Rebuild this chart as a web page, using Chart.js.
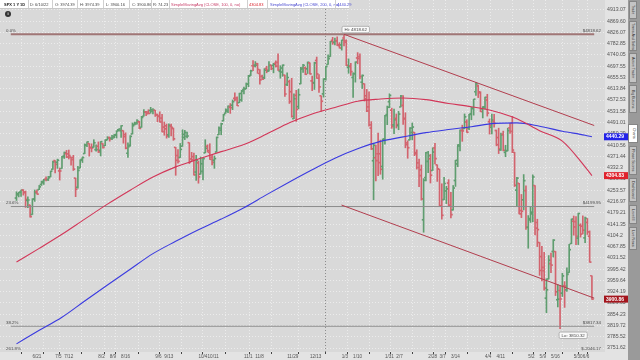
<!DOCTYPE html>
<html>
<head>
<meta charset="utf-8">
<script src="https://cdn.jsdelivr.net/npm/chart.js@4.4.0/dist/chart.umd.min.js"></script>
<style>
html, body { margin: 0; padding: 0; background: #e3e3e3; }
#wrap { position: relative; width: 640px; height: 360px; overflow: hidden; font-family: "Liberation Sans", Arial, sans-serif; }
canvas { position: absolute; left: 0; top: 0; }
#hdr { position: absolute; left: 0; top: 0; width: 349px; height: 8px; background: #fff; border-bottom: 1px solid #c8c8c8; }
#hdr span { position: absolute; top: 1.5px; font-size: 4px; line-height: 5px; white-space: nowrap; color: #444; }
#hdr i { position: absolute; top: 0; width: 1px; height: 8px; background: #d0d0d0; }
#info { position: absolute; left: 5px; top: 11px; width: 6px; height: 6px; border-radius: 3px; background: #333; color: #fff; font-size: 4px; line-height: 6px; text-align: center; font-weight: bold; }
#side { position: absolute; left: 628px; top: 0; width: 12px; height: 360px; background: #9a9a9a; }
.tab { position: absolute; left: 1px; width: 8px; background: #c4c4c4; border: 1px solid #858585; box-sizing: border-box; font-size: 3.6px; color: #333; writing-mode: vertical-rl; text-align: center; line-height: 6px; white-space: nowrap; overflow: hidden; }
.tab.sel { background: #fff; left: 0; width: 10px; }
</style>
</head>
<body>
<div id="wrap">
  <canvas id="chart" width="640" height="360"></canvas>
  <div id="hdr">
    <span style="left:4px;font-weight:bold;color:#222">SPX 1 Y 1D</span><i style="left:28px"></i>
    <span style="left:30px">D: 6/10/22</span><i style="left:52px"></i>
    <span style="left:55px">O: 3974.39</span><i style="left:77px"></i>
    <span style="left:80px">H: 3974.39</span><i style="left:103px"></i>
    <span style="left:106px">L: 3900.16</span><i style="left:129px"></i>
    <span style="left:132px">C: 3900.86</span><i style="left:151px"></i>
    <span style="left:153px">R: 74.23</span><i style="left:169px"></i>
    <span style="left:171px;color:#c8406a">SimpleMovingAvg (CLOSE, 100, 0, no)</span><i style="left:247px"></i>
    <span style="left:249px;color:#d8202a">4304.83</span><i style="left:267px"></i>
    <span style="left:270px;color:#4a4ad0">SimpleMovingAvg (CLOSE, 200, 0, no)</span><i style="left:335px"></i>
    <span style="left:337px;color:#4a4ad0">4440.29</span>
  </div>
  <div id="info">i</div>
  <div id="side">
    <div class="tab" style="top:1px;height:18px">Trade</div>
    <div class="tab" style="top:21px;height:30px">Times And Sales</div>
    <div class="tab" style="top:53px;height:30px">Active Trader</div>
    <div class="tab" style="top:85px;height:28px">Big Buttons</div>
    <div class="tab sel" style="top:124px;height:19px">Charts</div>
    <div class="tab" style="top:146px;height:29px">Phase Scores</div>
    <div class="tab" style="top:178px;height:24px">Dashboard</div>
    <div class="tab" style="top:205px;height:19px">Level II</div>
    <div class="tab" style="top:227px;height:23px">Live News</div>
  </div>
</div>
<script>
// SPX daily bars, 6/10/21 .. 6/10/22 (bar index 0..253)
const opens = [
  // Jun 21
  4228.56,4242.90,4248.31,4255.28,4248.87,4220.37,4204.78,4173.40,4224.61,4249.27,4256.97,4274.45,4284.90,4293.21,4290.65,
  // Jul
  4300.73,4326.60,4356.46,4351.01,4321.07,4329.38,4372.41,4381.07,4380.11,4369.02,4367.43,4296.40,4265.11,4331.13,4361.27,4381.20,4409.58,4416.38,4402.95,4403.59,4395.12,
  // Aug
  4406.86,4392.74,4415.95,4408.86,4429.07,4437.77,4435.79,4442.18,4446.08,4464.84,4461.65,4462.12,4440.94,4382.44,4410.56,4450.29,4484.40,4490.45,4493.75,4474.10,4513.76,4529.75,
  // Sep
  4528.80,4534.48,4532.42,4535.38,4518.09,4513.02,4506.92,4474.81,4479.33,4447.49,4477.09,4469.74,4402.95,4374.45,4367.43,4406.75,4438.04,4442.12,4419.54,4362.41,4370.67,
  // Oct
  4317.16,4348.84,4309.87,4319.57,4383.73,4406.51,4385.44,4368.31,4358.01,4386.75,4447.69,4463.72,4497.34,4524.42,4532.24,4546.12,4553.69,4578.69,4580.22,4562.84,4572.87,
  // Nov
  4610.62,4613.34,4630.65,4662.93,4699.26,4701.48,4707.25,4670.26,4659.39,4655.24,4689.30,4679.42,4701.50,4700.72,4708.44,4712.00,4678.48,4675.78,4664.63,4628.75,4640.25,
  // Dec
  4602.82,4504.73,4589.49,4548.37,4631.97,4690.86,4691.00,4687.64,4710.30,4642.99,4636.46,4719.13,4652.50,4587.90,4594.96,4650.36,4703.96,4733.99,4795.49,4788.64,4794.23,4775.21,
  // Jan 22
  4778.14,4804.51,4787.99,4693.39,4697.66,4655.34,4669.14,4728.59,4733.56,4637.99,4632.24,4588.03,4547.35,4471.38,4356.32,4366.64,4380.58,4380.58,4336.19,4431.79,
  // Feb
  4519.57,4566.39,4535.41,4482.79,4505.75,4480.02,4547.00,4553.24,4506.27,4412.61,4429.28,4455.75,4456.06,4384.57,4332.74,4324.93,4155.77,4298.38,4354.17,
  // Mar
  4363.14,4322.56,4401.31,4342.12,4327.01,4202.66,4223.10,4252.55,4279.50,4202.75,4188.82,4288.14,4345.11,4407.34,4462.40,4469.10,4493.10,4469.98,4522.91,4541.09,4602.86,4624.20,4599.02,
  // Apr
  4540.32,4547.97,4572.45,4494.17,4474.65,4494.15,4462.64,4437.59,4394.30,4449.12,4385.63,4390.63,4472.26,4489.17,4385.83,4255.34,4278.14,4186.52,4222.58,4253.75,
  // May
  4130.61,4159.78,4181.18,4270.43,4128.17,4081.27,4035.18,3990.08,3903.95,3963.90,4013.02,4052.00,4051.98,3899.00,3927.76,3919.42,3942.94,3929.59,3984.60,4077.43,4151.09,
  // Jun
  4149.78,4095.41,4137.57,4134.72,4096.47,4147.12,4101.65,3974.39
];
const highs = [
  4249.74,4248.38,4255.59,4257.16,4251.89,4232.29,4204.78,4226.24,4255.84,4256.60,4271.28,4286.12,4292.14,4300.52,4302.43,
  4320.66,4355.43,4356.46,4361.88,4330.88,4371.60,4386.68,4392.37,4393.68,4369.02,4375.09,4296.40,4336.84,4359.70,4369.87,4415.18,4422.73,4416.38,4415.47,4429.97,4412.25,
  4422.18,4423.79,4416.17,4429.76,4440.82,4439.39,4445.21,4449.44,4461.77,4468.37,4480.26,4462.12,4454.32,4418.61,4444.35,4489.88,4492.81,4501.71,4495.90,4513.33,4537.36,4531.39,
  4537.11,4545.85,4541.45,4535.38,4521.79,4529.90,4520.47,4492.99,4485.68,4486.87,4485.87,4471.52,4402.95,4394.87,4416.75,4465.40,4463.12,4457.30,4419.54,4385.57,4382.55,
  4375.19,4355.51,4369.23,4365.57,4429.97,4412.02,4415.88,4374.89,4372.87,4439.73,4475.82,4488.75,4520.40,4540.87,4551.44,4559.67,4572.62,4598.53,4584.57,4597.55,4608.08,
  4620.34,4635.15,4663.46,4683.00,4718.50,4714.92,4708.53,4684.85,4664.55,4688.47,4697.42,4714.95,4701.50,4708.80,4717.75,4743.83,4699.39,4702.87,4664.63,4672.95,4646.02,
  4652.94,4595.46,4608.03,4612.60,4694.04,4705.06,4695.26,4713.57,4710.30,4660.47,4712.60,4731.99,4666.70,4587.90,4651.14,4697.67,4740.74,4791.49,4807.02,4804.06,4808.93,4786.83,
  4796.64,4818.62,4797.70,4725.01,4707.95,4673.02,4714.13,4748.83,4744.13,4665.13,4632.24,4611.55,4602.11,4494.52,4417.35,4411.01,4453.23,4428.74,4432.72,4516.89,
  4550.49,4595.31,4542.88,4539.66,4521.86,4531.32,4590.03,4588.92,4526.33,4426.22,4472.77,4489.55,4456.06,4394.60,4362.12,4341.51,4294.73,4385.34,4388.84,
  4378.45,4401.48,4416.78,4342.12,4327.01,4276.94,4299.40,4268.28,4291.01,4247.57,4271.05,4357.86,4412.67,4465.40,4481.75,4522.00,4501.07,4520.58,4546.03,4575.65,4637.30,4627.77,4603.07,
  4548.70,4583.50,4593.45,4503.94,4521.16,4520.41,4464.35,4471.00,4453.92,4460.46,4410.31,4471.03,4488.29,4512.94,4385.83,4299.02,4278.14,4240.71,4308.45,4269.68,
  4169.81,4200.10,4307.66,4270.43,4157.69,4081.27,4068.82,4049.09,3964.80,4038.88,4046.46,4090.72,4051.98,3945.96,3943.42,3981.88,3955.68,3999.33,4075.14,4158.49,4168.34,
  4166.54,4177.51,4142.67,4168.78,4164.86,4160.14,4119.10,3974.39
];
const lows = [
  4220.34,4232.25,4234.07,4238.35,4196.96,4196.05,4164.40,4173.40,4217.27,4241.43,4256.97,4271.16,4274.67,4287.04,4287.96,
  4300.73,4326.60,4314.37,4329.79,4289.37,4329.38,4364.03,4366.92,4362.36,4340.70,4322.53,4233.13,4262.05,4331.13,4350.06,4381.20,4405.45,4372.51,4387.01,4403.59,4389.65,
  4384.81,4373.00,4400.23,4408.86,4429.07,4424.74,4430.03,4436.42,4435.96,4460.82,4437.66,4417.83,4397.59,4367.73,4406.80,4450.29,4482.28,4485.66,4468.99,4474.10,4513.76,4515.80,
  4522.02,4524.66,4521.65,4513.00,4493.95,4492.07,4457.66,4445.70,4435.46,4438.37,4443.80,4427.76,4305.91,4347.96,4367.43,4406.75,4430.27,4436.19,4346.33,4355.08,4306.24,
  4288.52,4278.94,4309.87,4290.49,4383.73,4386.22,4360.59,4342.09,4329.92,4386.75,4447.69,4447.47,4496.41,4524.40,4526.89,4524.00,4537.36,4569.17,4551.66,4562.84,4567.59,
  4595.06,4613.34,4621.19,4662.59,4681.32,4694.39,4670.87,4630.86,4648.31,4650.77,4672.86,4679.42,4684.41,4672.78,4694.22,4682.17,4652.66,4659.89,4585.43,4625.26,4560.00,
  4510.27,4504.73,4495.12,4540.51,4631.97,4674.52,4665.98,4670.24,4667.60,4606.52,4611.22,4651.89,4600.22,4531.10,4583.16,4645.53,4703.96,4733.99,4780.04,4778.08,4775.33,4765.75,
  4758.17,4774.27,4699.44,4671.26,4662.74,4582.24,4638.27,4706.71,4650.29,4614.75,4568.70,4530.20,4477.95,4395.34,4222.62,4287.11,4304.80,4309.50,4292.46,4414.02,
  4483.53,4544.32,4470.39,4451.50,4471.47,4465.40,4547.00,4484.31,4401.41,4364.84,4429.28,4429.68,4373.81,4327.22,4267.11,4221.51,4114.65,4286.83,4315.12,
  4279.54,4322.56,4345.56,4284.98,4199.85,4157.87,4223.10,4209.80,4200.49,4161.72,4187.90,4267.92,4335.65,4390.57,4424.30,4469.10,4455.81,4465.17,4501.07,4517.69,4589.66,4581.32,4530.41,
  4507.57,4539.21,4514.17,4450.04,4450.30,4474.60,4408.38,4381.34,4392.70,4390.77,4370.30,4390.63,4452.68,4384.47,4267.62,4200.82,4175.04,4162.90,4188.63,4124.28,
  4062.51,4147.08,4148.91,4106.01,4067.91,3975.48,3958.17,3928.82,3858.87,3963.90,3983.99,4033.93,3911.91,3876.58,3810.32,3909.04,3875.13,3925.03,3984.60,4077.43,4104.88,
  4073.85,4074.37,4098.67,4109.18,4080.19,4107.20,4017.17,3900.16
];
const closes = [
  4239.18,4247.44,4255.15,4246.59,4223.70,4221.86,4166.45,4224.79,4246.44,4241.84,4266.49,4280.70,4290.61,4291.80,4297.50,
  4319.94,4352.34,4343.54,4358.13,4320.82,4369.55,4384.63,4369.21,4374.30,4360.03,4327.16,4258.49,4323.06,4358.69,4367.48,4411.79,4422.30,4401.46,4400.64,4419.15,4395.26,
  4387.16,4423.15,4402.66,4429.10,4436.52,4432.35,4436.75,4447.70,4460.83,4468.00,4479.71,4448.08,4400.27,4405.80,4441.67,4479.53,4486.23,4496.19,4470.00,4509.37,4528.79,4522.68,
  4524.09,4536.95,4535.43,4520.03,4514.07,4493.28,4458.58,4468.73,4443.05,4480.70,4473.75,4432.99,4357.73,4354.19,4395.64,4448.98,4455.48,4443.11,4352.63,4359.46,4307.54,
  4357.04,4300.46,4345.72,4363.55,4399.76,4391.34,4361.19,4350.65,4363.80,4438.26,4471.37,4486.46,4519.63,4536.19,4549.78,4544.90,4566.48,4574.79,4551.68,4596.42,4605.38,
  4613.67,4630.65,4660.57,4680.06,4697.53,4701.70,4685.25,4646.71,4649.27,4682.85,4682.80,4700.90,4688.67,4704.54,4697.96,4682.94,4690.70,4701.46,4594.62,4655.27,4567.00,
  4513.04,4577.10,4538.43,4591.67,4686.75,4701.21,4667.45,4712.02,4668.97,4634.09,4709.85,4668.67,4620.64,4568.02,4649.23,4696.56,4725.79,4791.19,4786.35,4793.06,4778.73,4766.18,
  4796.56,4793.54,4700.58,4696.05,4677.03,4670.29,4713.07,4726.35,4659.03,4662.85,4577.11,4532.76,4482.73,4397.94,4410.13,4356.45,4349.93,4326.51,4431.85,4515.55,
  4546.54,4589.38,4477.44,4500.53,4483.87,4521.54,4587.18,4504.08,4418.64,4401.67,4471.07,4475.01,4380.26,4348.87,4304.76,4225.50,4288.70,4384.65,4373.94,
  4306.26,4386.54,4363.49,4328.87,4201.09,4170.70,4277.88,4259.52,4204.31,4173.11,4262.45,4357.86,4411.67,4463.12,4461.18,4511.61,4456.24,4520.16,4543.06,4575.52,4631.60,4602.45,4530.41,
  4545.86,4582.64,4525.12,4481.15,4500.21,4488.28,4412.53,4397.45,4446.59,4392.59,4391.69,4462.21,4459.45,4393.66,4271.78,4296.12,4175.20,4183.96,4287.50,4131.93,
  4155.38,4175.48,4300.17,4146.87,4123.34,3991.24,4001.05,3935.18,3930.08,4023.89,4008.01,4088.85,3923.68,3900.79,3901.36,3973.75,3941.48,3978.73,4057.84,4158.24,4132.15,
  4101.23,4176.82,4108.54,4121.43,4160.68,4115.77,4017.82,3900.86
];

// moving averages at every 10th bar
const smaIdx = [0,10,20,30,40,50,60,70,80,90,100,110,120,130,140,150,160,170,180,190,200,210,220,230,240,250,253];
const sma100 = [4018,4062,4108,4158,4208,4255,4300,4335,4362,4388,4413,4450,4490,4522,4545,4568,4576,4580,4574,4560,4548,4532,4505,4462,4425,4335,4304.83];
const sma200 = [3764,3805,3845,3895,3945,3995,4045,4085,4123,4158,4196,4240,4283,4325,4365,4398,4424,4440,4455,4466,4476,4488,4490,4478,4460,4446,4440.29];

// drawings
const upperTrendIdx = [144, 254];
const upperTrend = [4818.62, 4480.5];
const lowerTrendIdx = [142.9, 254];
const lowerTrend = [4205, 3904];
const fibNames = ['0.0%', '23.6%', '38.2%', '261.8%'];
const fibLevels = [4818.62, 4199.95, 3817.34, -2046.17];
const hiIdx = 144, hiVal = 4818.62;
const loIdx = 239, loVal = 3810.32;

// axes
const xTickIdx = [7,17,21,36,41,46,61,65,80,84,100,105,119,129,143,148,162,167,181,186,191,206,211,225,230,235,245,249];
const xTickText = ['6/21','7/5','7/12','8/2','8/9','8/16','9/6','9/13','10/4','10/11','11/1','11/8','11/29','12/13',
                   '1/3','1/10','1/31','2/7','2/28','3/7','3/14','4/4','4/11','5/2','5/9','5/16','5/30','6/6'];
const yTickText = ['3751.62','3785.52','3819.72','3854.23','3889.05','3924.19','3959.64','3995.42','4031.52','4067.85',
                   '4104.2','4141.35','4179.21','4216.97','4253.57','4293.31','4332.3','4371.44','4410.56','4450.29',
                   '4491.01','4531.58','4572.53','4613.84','4655.53','4697.55','4740.05','4782.85','4826.07','4869.60','4913.07'];
const yTicks = yTickText.map(Number);

const FONT = '"Liberation Sans", Arial, sans-serif';
const upColor = '#5f9d6f';
const downColor = '#d2646e';
const barColors = closes.map((c, i) => c >= opens[i] ? upColor : downColor);
const TICK = 1.0004; // about one pixel tall on this log scale

const pts = (xs, ys) => xs.map((x, k) => ({x: x, y: ys[k]}));
const lineDs = (data, color, width) => ({
  type: 'line', data: data, borderColor: color, borderWidth: width,
  pointRadius: 0, fill: false, cubicInterpolationMode: 'monotone'
});
const barDs = (data) => ({
  type: 'bar', data: data, backgroundColor: barColors, borderWidth: 0, barThickness: 1
});

const fibDatasets = fibLevels.filter(v => v > 0).map((v, k) =>
  lineDs([{x: -2.5, y: v}, {x: 254, y: v}], k === 0 ? '#a07676' : '#8c8c8c', k === 0 ? 2 : 1));

const bgPlugin = {
  id: 'bg',
  beforeDraw(chart) {
    const {ctx, chartArea: a} = chart;
    ctx.save();
    ctx.fillStyle = '#e3e3e3';
    ctx.fillRect(0, 0, chart.width, chart.height);
    ctx.fillStyle = '#d9d9d9';
    ctx.fillRect(a.left, a.top, a.right - a.left, a.bottom - a.top);
    ctx.restore();
  }
};

function bubble(ctx, text, x, y) {
  ctx.font = '4.4px ' + FONT;
  const w = ctx.measureText(text).width + 5;
  ctx.fillStyle = '#fafafa';
  ctx.strokeStyle = '#9a9a9a';
  ctx.lineWidth = 0.7;
  ctx.beginPath();
  ctx.roundRect(x, y, w, 6.5, 1.5);
  ctx.fill();
  ctx.stroke();
  ctx.fillStyle = '#444';
  ctx.textAlign = 'left';
  ctx.textBaseline = 'middle';
  ctx.fillText(text, x + 2.5, y + 3.4);
}

function priceBox(ctx, chart, value, fill) {
  const y = chart.scales.y.getPixelForValue(value);
  const a = chart.chartArea;
  ctx.fillStyle = fill;
  ctx.fillRect(a.right - 1, y - 3.5, 24, 7);
  ctx.fillStyle = '#fff';
  ctx.font = 'bold 5px ' + FONT;
  ctx.textAlign = 'left';
  ctx.textBaseline = 'middle';
  ctx.fillText(value.toFixed(2), a.right + 1, y + 0.3);
}

const decorPlugin = {
  id: 'decor',
  afterDraw(chart) {
    const {ctx, chartArea: a, scales: {x, y}} = chart;
    ctx.save();
    // fibonacci labels
    ctx.font = '4.4px ' + FONT;
    ctx.fillStyle = '#4a4a4a';
    ctx.textBaseline = 'bottom';
    fibLevels.forEach((v, k) => {
      const py = v > 0 ? y.getPixelForValue(v) - 1.5 : a.bottom - 1;
      ctx.textAlign = 'left';
      ctx.fillText(fibNames[k], a.left + 6, py);
      ctx.textAlign = 'right';
      ctx.fillText('$' + v.toFixed(2).replace(/\.?0+$/, ''), a.right - 4, py);
    });
    // hi / lo bubbles
    bubble(ctx, 'Hi: ' + hiVal.toFixed(2), x.getPixelForValue(hiIdx) - 2, y.getPixelForValue(hiVal) - 8);
    bubble(ctx, 'Lo: ' + loVal.toFixed(2), x.getPixelForValue(loIdx) - 1, y.getPixelForValue(loVal) + 3.5);
    // last values on the price axis
    priceBox(ctx, chart, sma200[sma200.length - 1], '#2323e8');
    priceBox(ctx, chart, sma100[sma100.length - 1], '#e0222c');
    priceBox(ctx, chart, closes[closes.length - 1], '#a3141c');
    ctx.restore();
  }
};

new Chart(document.getElementById('chart'), {
  type: 'bar',
  data: {
    datasets: [
      lineDs(pts(upperTrendIdx, upperTrend), '#b23e4e', 1),
      lineDs(pts(lowerTrendIdx, lowerTrend), '#b23e4e', 1),
      lineDs(pts(smaIdx, sma100), '#d23658', 1.1),
      lineDs(pts(smaIdx, sma200), '#3a3ae0', 1.1),
      ...fibDatasets,
      // OHLC bars: open tick (left), high-low stem (centre), close tick (right)
      barDs(opens.map((o, i) => ({x: i, y: [o / TICK, o * TICK]}))),
      barDs(lows.map((l, i) => ({x: i, y: [l, highs[i]]}))),
      barDs(closes.map((c, i) => ({x: i, y: [c / TICK, c * TICK]})))
    ]
  },
  options: {
    responsive: false,
    animation: false,
    devicePixelRatio: 1,
    layout: { padding: 0 },
    plugins: { legend: { display: false }, tooltip: { enabled: false } },
    scales: {
      x: {
        type: 'linear', min: -2.5, max: 254,
        afterBuildTicks: s => { s.ticks = xTickIdx.map(v => ({value: v})); },
        afterFit: s => { s.height = 8; s.paddingLeft = 0; s.paddingRight = 0; },
        ticks: {
          callback: (v, i) => xTickText[i],
          align: 'start', maxRotation: 0, autoSkip: false,
          font: { size: 4.6, family: FONT }, color: '#555', padding: 0
        },
        grid: {
          color: c => (c.tick && c.tick.value === 143) ? 'rgba(90,90,90,0.6)' : 'rgba(255,255,255,0.5)',
          tickColor: '#444', tickLength: 2
        },
        border: { display: false, dash: [1, 2] }
      },
      y: {
        type: 'logarithmic', position: 'right', min: 3739.7, max: 4952.4,
        afterBuildTicks: s => { s.ticks = yTicks.map(v => ({value: v})); },
        afterFit: s => { s.width = 35; s.paddingTop = 0; s.paddingBottom = 0; },
        ticks: {
          callback: v => yTickText[yTicks.indexOf(v)],
          autoSkip: false, font: { size: 5.2, family: FONT }, color: '#555', padding: 2
        },
        grid: { color: 'rgba(255,255,255,0.5)', drawTicks: false },
        border: { display: false, dash: [1, 2] }
      }
    }
  },
  plugins: [bgPlugin, decorPlugin]
});
</script>
</body>
</html>
